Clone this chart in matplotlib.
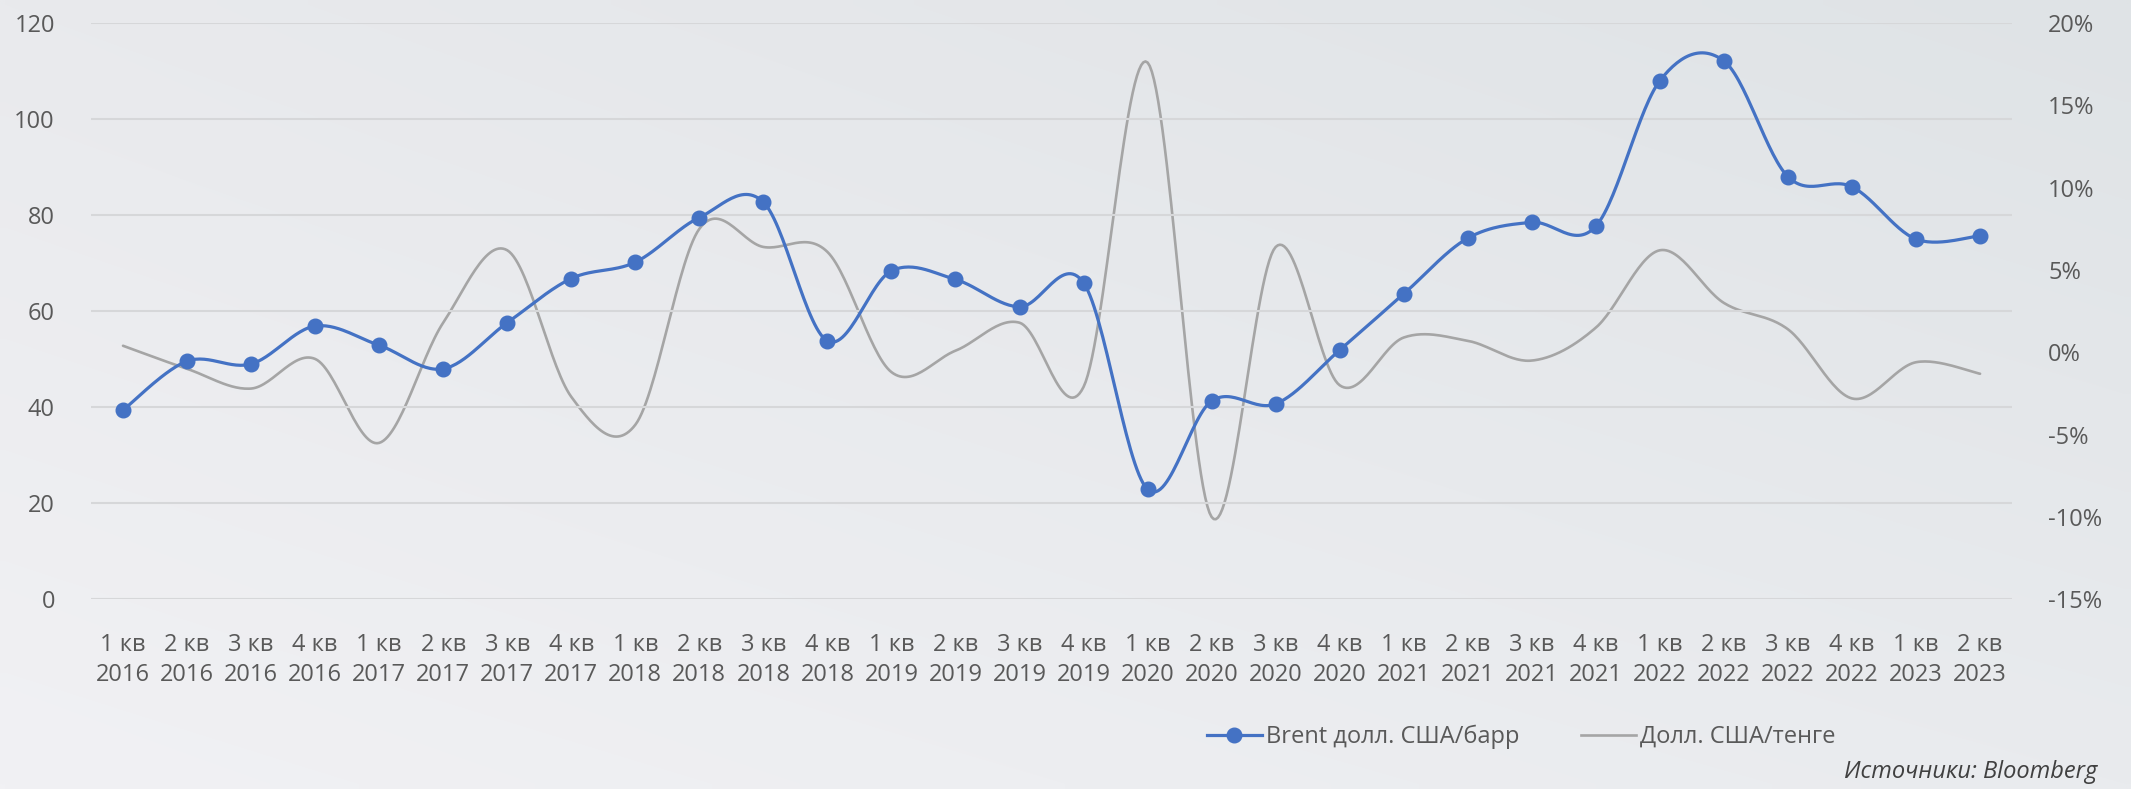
import matplotlib.pyplot as plt
import matplotlib.colors as mcolors
import numpy as np
from matplotlib.lines import Line2D

# данные (кварталы 2016 - 2023)
quarters = ["1 кв", "2 кв", "3 кв", "4 кв"] * 7 + ["1 кв", "2 кв"]
years = [str(y) for y in range(2016, 2023) for _ in range(4)] + ["2023", "2023"]
brent = [39.4, 49.6, 49.0, 56.9, 52.9, 48.0, 57.6, 66.8, 70.2, 79.5,
         82.7, 53.8, 68.4, 66.6, 60.9, 65.9, 22.9, 41.3, 40.7, 51.9,
         63.6, 75.2, 78.5, 77.7, 108.0, 112.1, 88.0, 85.9, 75.0, 75.7]
usdkzt = [0.4, -1.0, -2.2, -0.4, -5.5, 1.8, 6.2, -2.7, -4.4, 7.5,
          6.4, 6.1, -1.2, 0.1, 1.8, -2.1, 17.6, -10.0, 6.4, -2.0,
          0.9, 0.7, -0.5, 1.5, 6.2, 3.0, 1.4, -2.8, -0.6, -1.3]

labels = [q + "\n" + y for q, y in zip(quarters, years)]


def smooth(x, y, n=30):
    # сглаживание как в Excel (Catmull-Rom)
    x = np.asarray(x, float)
    y = np.asarray(y, float)
    px = np.concatenate([[x[0]], x, [x[-1]]])
    py = np.concatenate([[y[0]], y, [y[-1]]])
    xs, ys = [], []
    t = np.linspace(0, 1, n, endpoint=False)
    for i in range(1, len(px) - 2):
        b0x, b3x = px[i], px[i + 1]
        b0y, b3y = py[i], py[i + 1]
        b1x = b0x + (px[i + 1] - px[i - 1]) / 6
        b1y = b0y + (py[i + 1] - py[i - 1]) / 6
        b2x = b3x - (px[i + 2] - px[i]) / 6
        b2y = b3y - (py[i + 2] - py[i]) / 6
        xs.append((1 - t) ** 3 * b0x + 3 * (1 - t) ** 2 * t * b1x + 3 * (1 - t) * t ** 2 * b2x + t ** 3 * b3x)
        ys.append((1 - t) ** 3 * b0y + 3 * (1 - t) ** 2 * t * b1y + 3 * (1 - t) * t ** 2 * b2y + t ** 3 * b3y)
    xs.append([x[-1]])
    ys.append([y[-1]])
    return np.concatenate(xs), np.concatenate(ys)


plt.rcParams['font.family'] = ['Open Sans', 'DejaVu Sans']
txt_color = "#595959"
blue = "#4472C4"
grey = "#A5A5A5"
bg = "#ebedf0"

fig = plt.figure(figsize=(21.31, 7.89), dpi=100, facecolor=bg)

# фон с лёгким градиентом
bgax = fig.add_axes([0, 0, 1, 1], zorder=-10)
c_tl = np.array(mcolors.to_rgb("#e9eaed"))
c_tr = np.array(mcolors.to_rgb("#dfe3e6"))
c_bl = np.array(mcolors.to_rgb("#f1f1f4"))
c_br = np.array(mcolors.to_rgb("#e9ebee"))
u = np.linspace(0, 1, 200)[None, :, None]
v = np.linspace(0, 1, 80)[:, None, None]
img = (1 - v) * ((1 - u) * c_tl + u * c_tr) + v * ((1 - u) * c_bl + u * c_br)
bgax.imshow(img, aspect="auto", extent=[0, 1, 0, 1], interpolation="bilinear")
bgax.axis("off")

ax = fig.add_axes([0.0427, 0.2404, 0.9015, 0.7304])
ax.set_facecolor("none")
ax2 = ax.twinx()

x = np.arange(len(brent))

# ось слева: Brent
ax.set_ylim(0, 120)
ax.set_yticks(np.arange(0, 121, 20))
ax.set_xlim(-0.5, len(brent) - 0.5)
ax.grid(axis="y", color="#d6d7d9", linewidth=1.5)
ax.set_axisbelow(True)

# ось справа: изменение курса
ax2.set_ylim(-15, 20)
ax2.set_yticks(np.arange(-15, 21, 5))
ax2.set_yticklabels([f"{v}%" for v in range(-15, 21, 5)])

sx, sy = smooth(x, usdkzt)
ax2.plot(sx, sy, color=grey, lw=1.9, solid_capstyle="round", zorder=2)

bx, by = smooth(x, brent)
ax.plot(bx, by, color=blue, lw=2.3, zorder=3)
ax.plot(x, brent, "o", color=blue, markersize=10.5, zorder=4)
ax.set_zorder(ax2.get_zorder() + 1)

ax.set_xticks(x)
ax.set_xticklabels(labels, fontsize=17, color=txt_color, linespacing=1.35)
for a in (ax, ax2):
    a.tick_params(length=0, labelsize=17, labelcolor=txt_color)
    for s in a.spines.values():
        s.set_visible(False)
ax.tick_params(axis="x", pad=24)
ax.tick_params(axis="y", pad=26)
ax2.tick_params(axis="y", pad=26)

# легенда
h1 = Line2D([], [], color=blue, lw=2.3, marker="o", markersize=10.5)
h2 = Line2D([], [], color=grey, lw=1.9)
fig.legend([h1, h2], ["Brent долл. США/барр", "Долл. США/тенге"],
           loc="center", bbox_to_anchor=(0.714, 0.066), ncol=2, frameon=False,
           fontsize=17, labelcolor=txt_color, handlelength=2.3, handletextpad=0.2,
           columnspacing=2.6)

fig.text(0.984, 0.022, "Источники: Bloomberg", ha="right", va="center",
         fontsize=17, style="italic", color="#404040")

plt.savefig("out.png", dpi=100)
